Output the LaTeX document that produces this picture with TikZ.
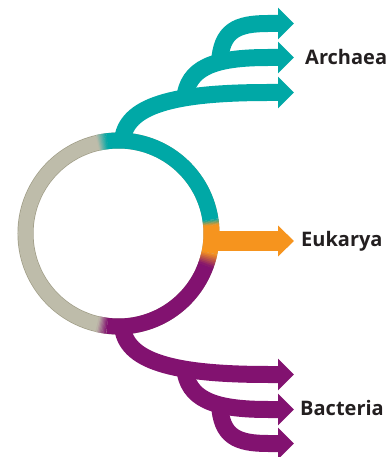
\documentclass[tikz,border=0pt]{standalone}
\usepackage{fontspec}
\setmainfont{Open Sans}
\usepackage{tikz}
\usetikzlibrary{arrows.meta}
\definecolor{archteal}{RGB}{0,168,166}
\definecolor{eukorange}{RGB}{246,148,30}
\definecolor{bactpurple}{RGB}{130,18,112}
\definecolor{ringgray}{RGB}{190,188,170}
\definecolor{ringedge}{RGB}{160,157,135}
\definecolor{labeltext}{RGB}{35,31,32}

% soft colour change along the ring, from angle #1 to angle #2
\newcommand{\blendarc}[4]{%
  \foreach \k in {0,...,7}{
    \pgfmathsetmacro{\aa}{#1+(#2-#1)*\k/8}
    \pgfmathsetmacro{\bb}{#1+(#2-#1)*(\k+1.3)/8}
    \pgfmathsetmacro{\pp}{100-100*(\k+0.5)/8}
    \draw[ring, color=#3!\pp!#4] (\aa:93) arc[start angle=\aa, end angle=\bb, radius=93];
  }
}

\begin{document}
\begin{tikzpicture}[x=1pt, y=1pt,
    ring/.style={line width=16pt},
    branch/.style={line width=17pt, -{Triangle[length=16pt, width=31pt]}},
    taxon/.style={anchor=base west, inner sep=0pt, text=labeltext,
                  font=\bfseries\fontsize{20}{24}\selectfont}]
  \useasboundingbox (-118.5,-223.5) rectangle (271.5,233.5);

  % ring
  \draw[line width=16pt, ringedge] (0,0) circle[radius=93];
  \draw[line width=14.6pt, ringgray] (0,0) circle[radius=93];
  \draw[ring, archteal] (97:93) arc[start angle=97, end angle=8.5, radius=93];
  \draw[ring, eukorange] (5:93) arc[start angle=5, end angle=-12, radius=93];
  \draw[ring, bactpurple] (-20:93) arc[start angle=-20, end angle=-97, radius=93];
  \blendarc{103}{97}{ringgray}{archteal}
  \blendarc{8.5}{5}{archteal}{eukorange}
  \blendarc{-12}{-20}{eukorange}{bactpurple}
  \blendarc{-97}{-103}{bactpurple}{ringgray}

  % archaea
  \coordinate (aroot) at (4,92);
  \coordinate (asplit1) at (66,134);
  \coordinate (asplit2) at (101,171);
  \coordinate (a1) at (175.5,141);
  \coordinate (a2) at (175.5,176);
  \coordinate (a3) at (175.5,210);
  \draw[branch, archteal] (aroot) .. controls (6,128) and (55,141) .. (150,141) -- (a1);
  \draw[branch, archteal] (asplit1) .. controls (69,166) and (95,176) .. (150,176) -- (a2);
  \draw[branch, archteal] (asplit2) .. controls (103,203) and (118,210) .. (150,210) -- (a3);

  % bacteria
  \coordinate (broot) at (4,-92);
  \coordinate (bsplit1) at (66,-134);
  \coordinate (bsplit2) at (101,-171);
  \coordinate (b1) at (175.5,-141);
  \coordinate (b2) at (175.5,-176);
  \coordinate (b3) at (175.5,-210);
  \draw[branch, bactpurple] (broot) .. controls (6,-128) and (55,-141) .. (150,-141) -- (b1);
  \draw[branch, bactpurple] (bsplit1) .. controls (69,-166) and (95,-176) .. (150,-176) -- (b2);
  \draw[branch, bactpurple] (bsplit2) .. controls (103,-203) and (118,-210) .. (150,-210) -- (b3);

  % eukarya
  \coordinate (eroot) at (86,-7.5);
  \coordinate (e1) at (175.5,-7.5);
  \draw[line width=20pt, eukorange, -{Triangle[length=16pt, width=30pt]}] (eroot) -- (e1);

  \node[taxon] (archaea) at (186.5,168.5) {Archaea};
  \node[taxon] (eukarya) at (182.5,-13.2) {Eukarya};
  \node[taxon] (bacteria) at (181.5,-181.5) {Bacteria};
\end{tikzpicture}
\end{document}
